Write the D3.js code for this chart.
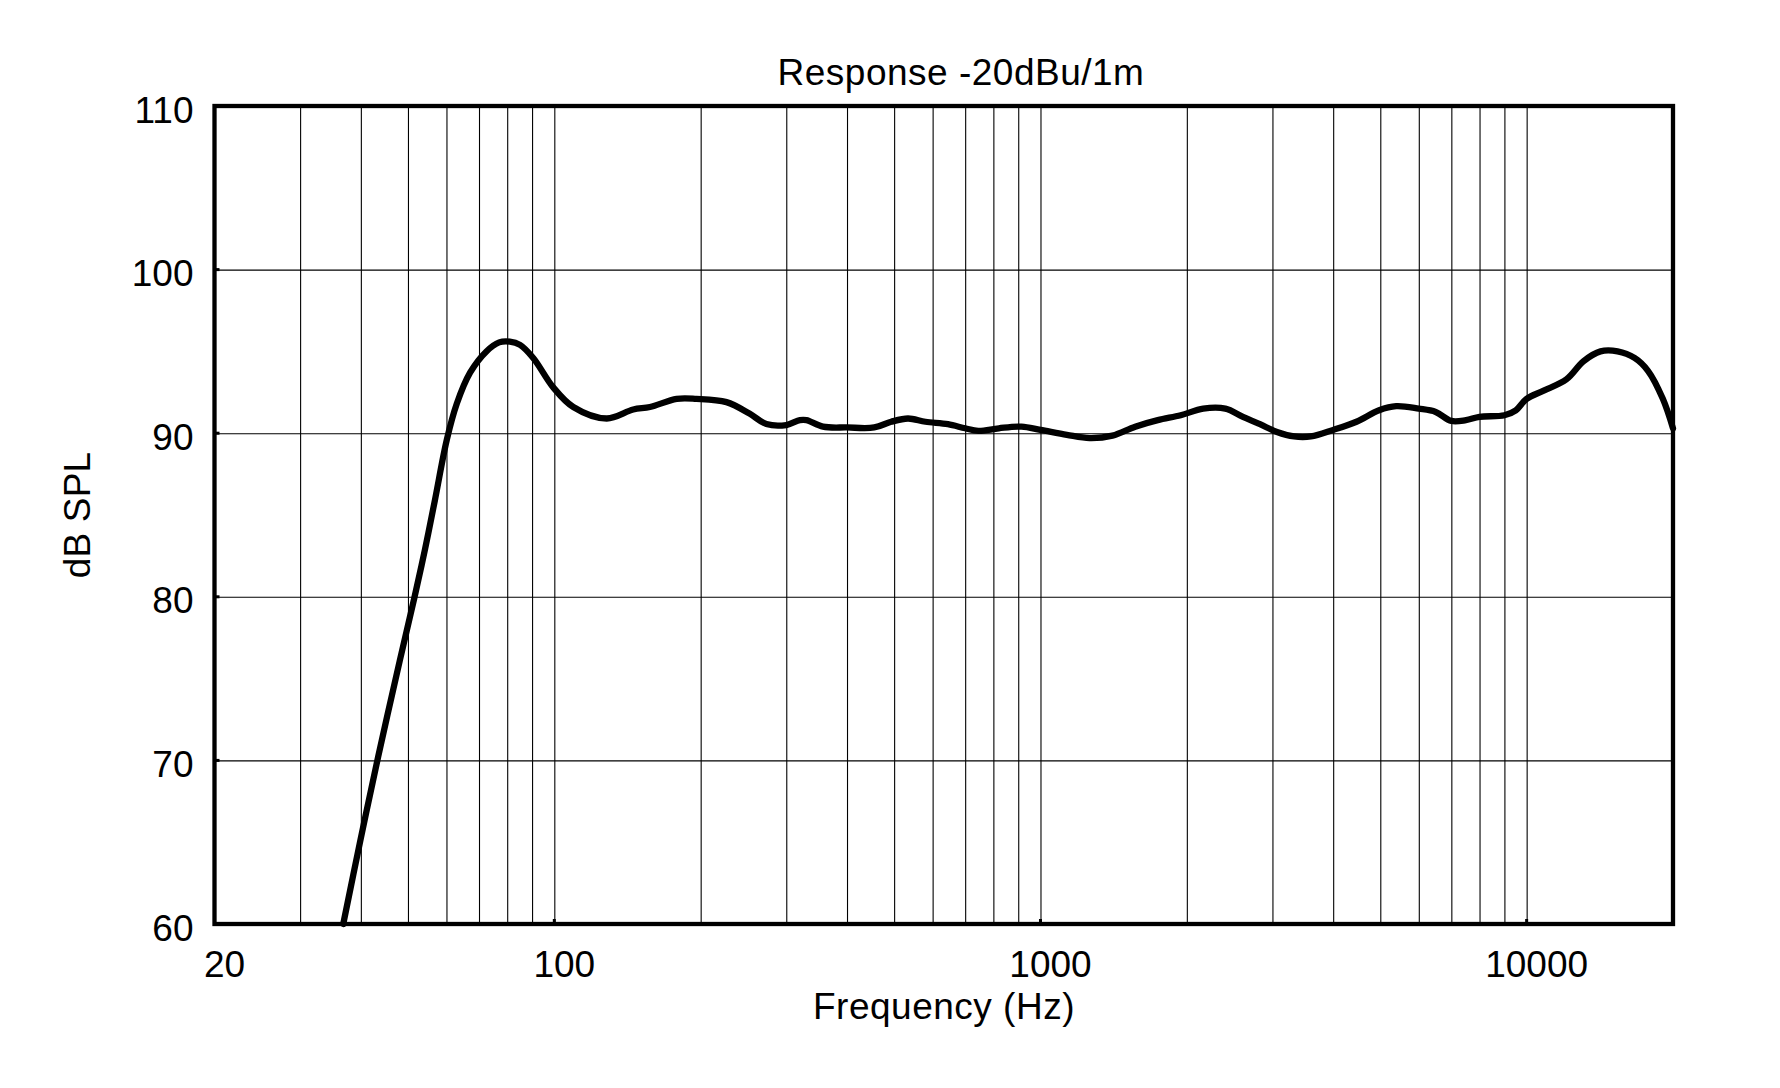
<!DOCTYPE html>
<html><head><meta charset="utf-8">
<script src="https://cdn.jsdelivr.net/npm/d3@7"></script>
<style>
body{margin:0;background:#fff}
svg{display:block}
text{font-family:"Liberation Sans",Arial,sans-serif;fill:#000}
</style>
</head><body>
<svg id="c" width="1780" height="1088"></svg>
<script>
// ---- data ----
const freqHz = [36.8, 39.9, 43.4, 48.1, 51.5, 54.2, 56.8, 60.1, 63.0, 67.1, 72.5, 77, 81, 85, 90.5, 99.5, 109.4, 128.2, 145.3, 157.3, 178.5, 196,
  226, 252, 273, 300, 320, 330, 357, 400, 455, 493, 534, 580, 645, 700, 745, 821, 914, 1000, 1133, 1262, 1406, 1566, 1743, 1943, 2161, 2400,
  2609, 2828, 3065, 3323, 3600, 4000, 4466, 4972, 5391, 6000, 6500, 7000, 7500, 8000, 9000, 9500, 10000, 10840, 12077, 13090, 14188, 15380, 16670, 17780, 19060, 20000];
const splDb = [60.0, 65.1, 70.2, 76.1, 79.9, 82.9, 85.9, 89.6, 91.8, 93.7, 95.0, 95.55, 95.6, 95.4, 94.6, 92.8, 91.6, 90.9, 91.45, 91.6, 92.1, 92.1,
  91.9, 91.2, 90.56, 90.5, 90.8, 90.8, 90.4, 90.35, 90.35, 90.7, 90.9, 90.7, 90.55, 90.3, 90.14, 90.3, 90.4, 90.2, 89.9, 89.7, 89.85, 90.4, 90.8, 91.1, 91.5, 91.5,
  91.0, 90.55, 90.07, 89.8, 89.8, 90.2, 90.7, 91.4, 91.65, 91.5, 91.3, 90.75, 90.8, 91.0, 91.1, 91.4, 92.1, 92.6, 93.3, 94.4, 95.0, 95.0, 94.6, 93.8, 92.1, 90.3];
const xTickValues = [20, 100, 1000, 10000];
const xTickLabels = ["20", "100", "1000", "10000"];
const xGridValues = [30,40,50,60,70,80,90,100,200,300,400,500,600,700,800,900,1000,2000,3000,4000,5000,6000,7000,8000,9000,10000];
const yTickValues = [60, 70, 80, 90, 100, 110];
const yTickLabels = ["60", "70", "80", "90", "100", "110"];
const chartTitle = "Response -20dBu/1m";
const xTitle = "Frequency (Hz)";
const yTitle = "dB SPL";

// ---- layout ----
const L = 214.5, R = 1673, T = 106, B = 924;
const svg = d3.select("#c");
const x = d3.scaleLog().domain([20, 20000]).range([L, R]);
const y = d3.scaleLinear().domain([60, 110]).range([B, T]);

// grid
const gx = svg.append("g").attr("transform", `translate(0,${B})`)
  .call(d3.axisBottom(x).tickValues(xGridValues).tickSize(-(B - T)).tickFormat(""));
gx.select(".domain").remove();
gx.selectAll("line").attr("stroke", "#000").attr("stroke-width", 1.1);

const gy = svg.append("g").attr("transform", `translate(${L},0)`)
  .call(d3.axisLeft(y).tickValues(yTickValues.slice(1, -1)).tickSize(-(R - L)).tickFormat(""));
gy.select(".domain").remove();
gy.selectAll("line").attr("stroke", "#000").attr("stroke-width", 1.1);

// x tick labels
const ax = svg.append("g").attr("transform", `translate(0,${B})`)
  .call(d3.axisBottom(x).tickValues(xTickValues).tickSize(0).tickFormat((d, i) => xTickLabels[i]));
ax.select(".domain").remove();
ax.selectAll("text").attr("dy", null).attr("y", 52.7).attr("dx", 9.5)
  .style("font-size", "37px").style("font-family", '"Liberation Sans",Arial,sans-serif');
// small decade ticks
svg.append("g").selectAll("rect").data(xTickValues.slice(1)).join("rect")
  .attr("x", d => x(d) - 1.5).attr("y", B - 5).attr("width", 3).attr("height", 4).attr("fill", "#000");

// y tick labels
const ay = svg.append("g").attr("transform", `translate(${L},0)`)
  .call(d3.axisLeft(y).tickValues(yTickValues).tickSize(0).tickFormat((d, i) => yTickLabels[i]));
ay.select(".domain").remove();
ay.selectAll("text").attr("dy", null).attr("x", -21).attr("y", 16)
  .style("font-size", "37px").style("font-family", '"Liberation Sans",Arial,sans-serif');
svg.append("g").selectAll("rect").data(yTickValues.slice(1, -1)).join("rect")
  .attr("x", L + 1).attr("y", d => y(d) - 1.5).attr("width", 4).attr("height", 3).attr("fill", "#000");

// curve
const pts = freqHz.map((f, i) => [f, splDb[i]]);
svg.append("path").datum(pts)
  .attr("fill", "none").attr("stroke", "#000").attr("stroke-width", 6.3)
  .attr("stroke-linejoin", "round").attr("stroke-linecap", "round")
  .attr("d", d3.line().x(d => x(d[0])).y(d => y(d[1])).curve(d3.curveCatmullRom.alpha(0.5)));

// frame
svg.append("rect").attr("x", L).attr("y", T).attr("width", R - L).attr("height", B - T)
  .attr("fill", "none").attr("stroke", "#000").attr("stroke-width", 4.3);

// titles
svg.append("text").attr("x", 961).attr("y", 85).attr("text-anchor", "middle")
  .style("font-size", "37px").style("letter-spacing", "0.5px").text(chartTitle);
svg.append("text").attr("x", 944).attr("y", 1019).attr("text-anchor", "middle")
  .style("font-size", "37px").style("letter-spacing", "0.5px").text(xTitle);
svg.append("text").attr("transform", "translate(90,515) rotate(-90)").attr("text-anchor", "middle")
  .style("font-size", "37px").style("letter-spacing", "0.2px").text(yTitle);
</script>
</body></html>
